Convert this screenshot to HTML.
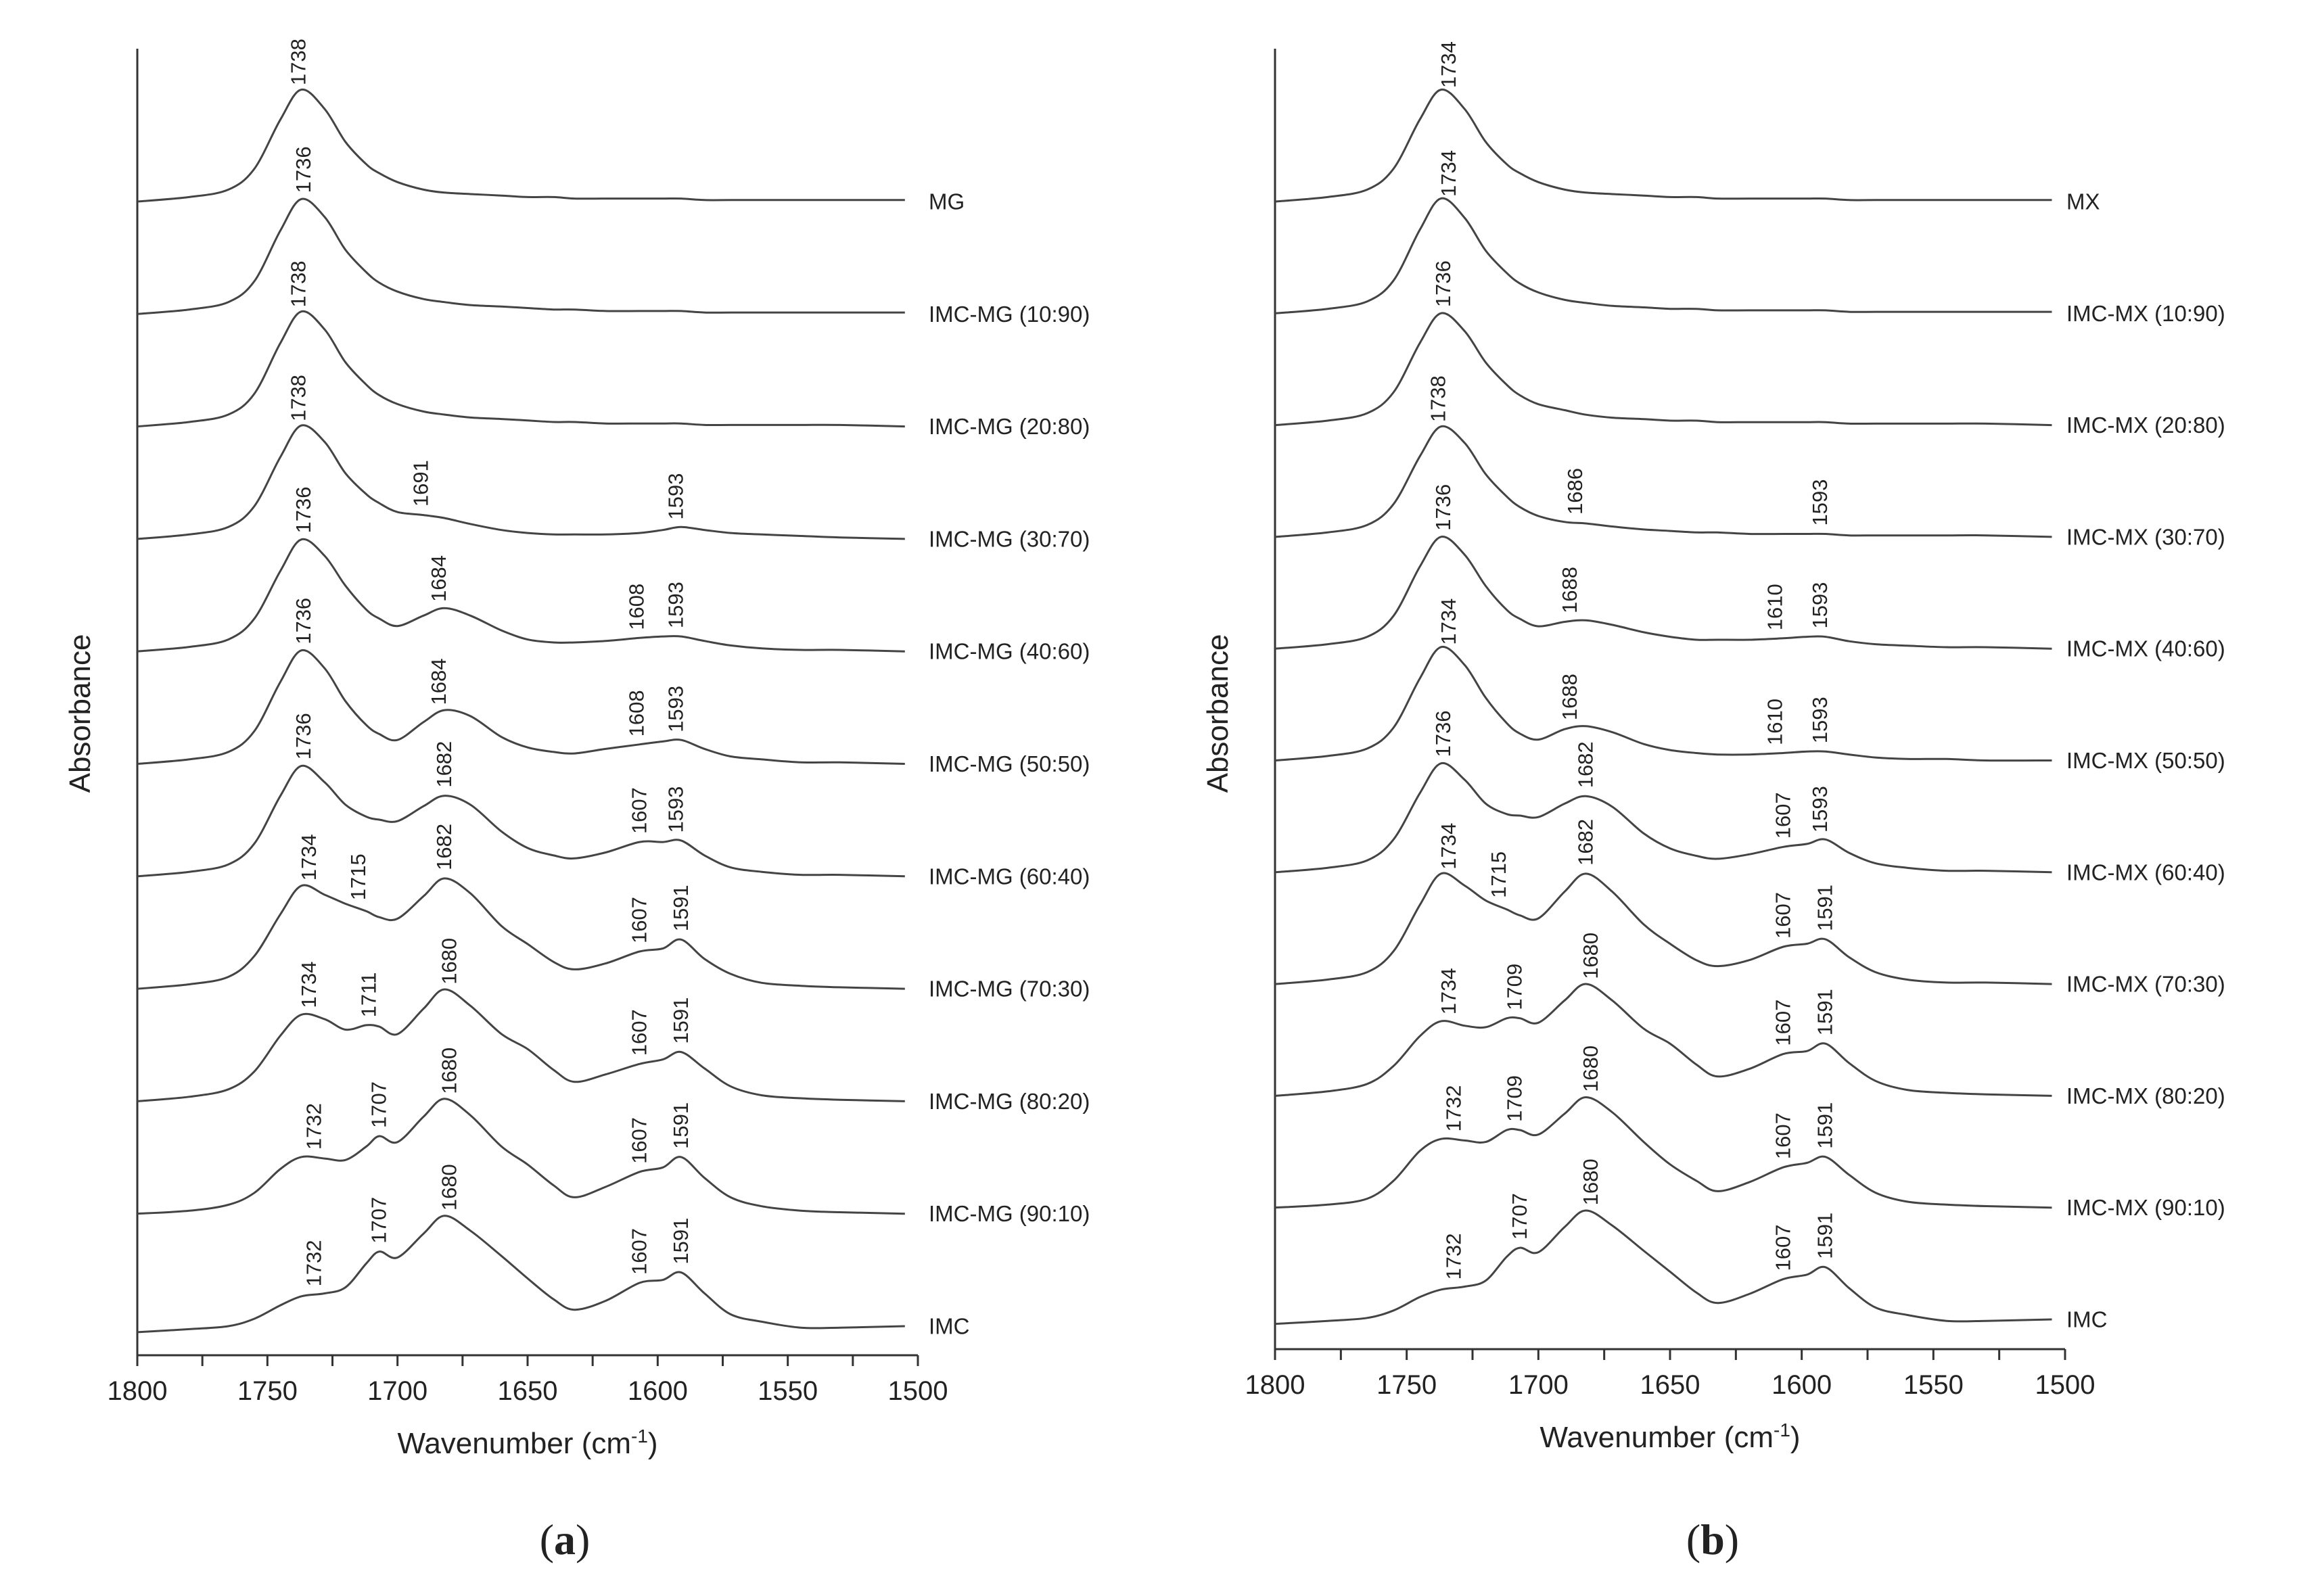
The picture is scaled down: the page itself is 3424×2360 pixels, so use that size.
<!DOCTYPE html>
<html><head><meta charset="utf-8">
<style>
html,body{margin:0;padding:0;background:#fff;}
svg{display:block;}
text{font-family:"Liberation Sans",sans-serif;fill:#222;}
</style></head>
<body>
<svg id="chart" width="3424" height="2360" viewBox="0 0 3424 2360" xmlns="http://www.w3.org/2000/svg">
<g id="panelA"></g>
<g id="panelB"></g>
</svg>
<script>
// shared wavenumber grid (cm-1)
const wavenumbers = [1800,1780,1765,1755,1745,1737,1728,1720,1712,1707,1700,1690,1682,1672,1660,1650,1640,1632,1620,1607,1598,1591,1582,1572,1560,1545,1530,1505];
const xTicks = [1800,1750,1700,1650,1600,1550,1500];

// Panel (a) series names and absorbance (relative units)
const namesA = ["MG","IMC-MG (10:90)","IMC-MG (20:80)","IMC-MG (30:70)","IMC-MG (40:60)","IMC-MG (50:50)","IMC-MG (60:40)","IMC-MG (70:30)","IMC-MG (80:20)","IMC-MG (90:10)","IMC"];
const valsA_MG   = [0,3,8,22,55,75,62,40,25,19,13,8,6,5,4,3,3,2,2,2,2,2,1,1,1,1,1,1];
const valsA_1090 = [0,3,8,22,56,77,65,43,28,21,15,10,8,6,5,4,3,3,2,2,2,2,1,1,1,1,1,1];
const valsA_2080 = [0,3,8,22,56,77,65,43,28,21,15,10,8,6,5,4,3,3,2,2,2,2,1,1,1,1,1,0];
const valsA_3070 = [0,3,8,22,55,76,65,44,30,24,18,16,14,10,6,4,3,3,3,4,6,8,6,4,3,2,1,0];
const valsA_4060 = [0,3,8,22,54,75,64,44,28,22,17,24,29,24,14,8,6,6,7,9,10,10,7,4,2,1,1,0];
const valsA_5050 = [0,3,8,22,55,76,64,42,26,20,16,28,36,32,18,11,8,7,10,13,15,16,10,5,3,1,1,0];
const valsA_6040 = [0,3,8,22,54,74,63,48,40,38,37,47,54,48,30,19,14,12,16,23,23,24,14,6,3,1,1,0];
const valsA_7030 = [0,3,8,22,50,69,63,57,52,48,47,62,74,64,42,30,18,13,17,25,27,33,20,10,4,2,1,0];
const valsA_8020 = [0,3,8,20,44,58,55,48,51,50,45,62,75,64,45,35,21,13,18,25,28,33,22,10,4,2,1,0];
const valsA_9010 = [0,2,6,14,30,38,37,36,45,52,48,65,77,66,45,33,19,11,18,28,31,38,24,11,5,2,1,0];
const valsA_IMC  = [-4,-2,0,5,14,20,22,26,42,50,46,62,74,64,47,32,18,11,17,29,31,36,22,8,3,-1,-1,0];
const peaksA = [[1738],[1736],[1738],[1738,1691,1593],[1736,1684,1608,1593],[1736,1684,1608,1593],[1736,1682,1607,1593],[1734,1715,1682,1607,1591],[1734,1711,1680,1607,1591],[1732,1707,1680,1607,1591],[1732,1707,1680,1607,1591]];

// Panel (b)
const namesB = ["MX","IMC-MX (10:90)","IMC-MX (20:80)","IMC-MX (30:70)","IMC-MX (40:60)","IMC-MX (50:50)","IMC-MX (60:40)","IMC-MX (70:30)","IMC-MX (80:20)","IMC-MX (90:10)","IMC"];
const valsB_MX   = [0,3,8,22,55,75,62,40,25,19,13,8,6,5,4,3,3,2,2,2,2,2,1,1,1,1,1,1];
const valsB_1090 = [0,3,8,22,56,77,64,42,27,20,14,9,7,5,4,3,3,2,2,2,2,2,1,1,1,1,1,1];
const valsB_2080 = [0,3,8,22,55,75,63,42,27,20,14,10,7,5,4,3,3,2,2,2,2,2,1,1,1,1,1,0];
const valsB_3070 = [0,3,8,22,54,74,63,42,27,20,14,10,9,7,5,4,3,3,2,2,2,2,1,1,1,1,1,0];
const valsB_4060 = [0,3,8,22,55,75,63,42,26,20,15,18,19,16,11,8,6,6,6,7,8,8,5,3,2,1,1,0];
const valsB_5050 = [0,3,8,22,55,76,64,42,25,18,14,21,23,19,11,7,5,4,4,5,6,6,4,2,1,1,0,0];
const valsB_6040 = [0,3,8,22,53,73,62,46,39,38,37,46,51,44,26,16,11,9,12,17,19,22,13,6,3,1,1,0];
const valsB_7030 = [0,3,8,22,53,74,66,56,50,46,44,62,74,62,40,27,16,12,16,25,27,30,18,8,3,1,1,0];
const valsB_8020 = [0,3,8,20,40,50,47,46,52,52,49,64,75,64,45,35,21,13,18,28,30,35,22,10,4,2,1,0];
const valsB_9010 = [0,2,6,18,38,46,45,44,52,52,49,63,74,64,44,29,18,11,17,27,30,34,22,10,4,2,1,0];
const valsB_IMC  = [-3,-1,1,6,15,20,22,26,42,48,45,62,73,63,46,32,18,11,17,27,30,35,21,8,3,-1,-1,0];
const peaksB = [[1734],[1734],[1736],[1738,1686,1593],[1736,1688,1610,1593],[1734,1688,1610,1593],[1736,1682,1607,1593],[1734,1715,1682,1607,1591],[1734,1709,1680,1607,1591],[1732,1709,1680,1607,1591],[1732,1707,1680,1607,1591]];

const seriesA = [valsA_MG,valsA_1090,valsA_2080,valsA_3070,valsA_4060,valsA_5050,valsA_6040,valsA_7030,valsA_8020,valsA_9010,valsA_IMC];
const seriesB = [valsB_MX,valsB_1090,valsB_2080,valsB_3070,valsB_4060,valsB_5050,valsB_6040,valsB_7030,valsB_8020,valsB_9010,valsB_IMC];

const NS = "http://www.w3.org/2000/svg";
function mk(tag, attrs, parent){const e=document.createElementNS(NS,tag);for(const k in attrs)e.setAttribute(k,attrs[k]);parent.appendChild(e);return e;}

function drawPanel(g, cfg, names, series, peaks, tag){
  const xS = w => cfg.x0 + (1800 - w) * (cfg.x1 - cfg.x0) / 300;
  const baseY = i => cfg.top + i * cfg.step;
  const yS = (i, v) => baseY(i) - v * cfg.unit;
  const ya = mk("line",{x1:cfg.x0,y1:cfg.axTop,x2:cfg.x0,y2:cfg.axY,stroke:"#333","stroke-width":3},g);
  
  
  const xa = mk("line",{x1:cfg.x0,y1:cfg.axY,x2:cfg.x1,y2:cfg.axY,stroke:"#333","stroke-width":3},g);
  
  
  for(let w=1800; w>=1500; w-=25){
    const t = mk("line",{x1:xS(w),y1:cfg.axY,x2:xS(w),y2:cfg.axY+16,stroke:"#333","stroke-width":3},g);
    
    
  }
  xTicks.forEach(w=>{
    const t = mk("text",{x:xS(w),y:cfg.axY+66,"font-size":40,"text-anchor":"middle"},g);
    t.textContent = w;
    
    
  });
  const xt = mk("text",{x:(cfg.x0+cfg.x1)/2,y:cfg.axY+145,"font-size":44,"text-anchor":"middle"},g);
  xt.innerHTML = 'Wavenumber (cm<tspan dy="-16" font-size="28">-1</tspan><tspan dy="16">)</tspan>';
  
  
  const yt = mk("text",{x:0,y:0,"font-size":44,"text-anchor":"middle",transform:`translate(${cfg.x0-70},1055) rotate(-90)`},g);
  yt.textContent = "Absorbance";
  
  
  const pl = mk("text",{x:cfg.tagX,y:2298,"font-size":64,"text-anchor":"middle",style:"font-family:'Liberation Serif',serif"},g);
  pl.innerHTML = '(<tspan font-weight="bold">'+tag+'</tspan>)';
  
  

  series.forEach((vals,i)=>{
    const pts = wavenumbers.map((w,k)=>[xS(w), yS(i, vals[k])]);
    let d = `M${pts[0][0]},${pts[0][1]}`;
    for(let k=0;k<pts.length-1;k++){
      const p0=pts[Math.max(0,k-1)],p1=pts[k],p2=pts[k+1],p3=pts[Math.min(pts.length-1,k+2)];
      const c1=[p1[0]+(p2[0]-p0[0])/6,p1[1]+(p2[1]-p0[1])/6];
      const c2=[p2[0]-(p3[0]-p1[0])/6,p2[1]-(p3[1]-p1[1])/6];
      d+=` C${c1[0].toFixed(1)},${c1[1].toFixed(1)} ${c2[0].toFixed(1)},${c2[1].toFixed(1)} ${p2[0].toFixed(1)},${p2[1].toFixed(1)}`;
    }
    const p = mk("path",{d:d,fill:"none",stroke:"#444","stroke-width":3,"stroke-linejoin":"round"},g);
    
    
    const lb = mk("text",{x:cfg.labelX,y:baseY(i),"font-size":33,"dominant-baseline":"central"},g);
    lb.textContent = names[i];
    
    
    peaks[i].forEach(pw=>{
      let v = vals[0];
      for(let k=0;k<wavenumbers.length-1;k++){
        if(pw<=wavenumbers[k] && pw>=wavenumbers[k+1]){
          const f=(wavenumbers[k]-pw)/(wavenumbers[k]-wavenumbers[k+1]);
          v = vals[k]+(vals[k+1]-vals[k])*f; break;
        }
      }
      const px = xS(pw)+10, py = yS(i, v) - 12;
      const t = mk("text",{x:0,y:0,"font-size":31,transform:`translate(${px},${py}) rotate(-90)`},g);
      t.textContent = pw;
      
      
    });
  });
}

drawPanel(document.getElementById('panelA'),{x0:203,x1:1357,axTop:72,axY:2004,top:298,step:166.3,unit:2.206,labelX:1373,tagX:835},namesA,seriesA,peaksA,'a');
drawPanel(document.getElementById('panelB'),{x0:1885,x1:3053,axTop:72,axY:1995,top:298,step:165.3,unit:2.206,labelX:3055,tagX:2532},namesB,seriesB,peaksB,'b');
</script>
</body></html>
